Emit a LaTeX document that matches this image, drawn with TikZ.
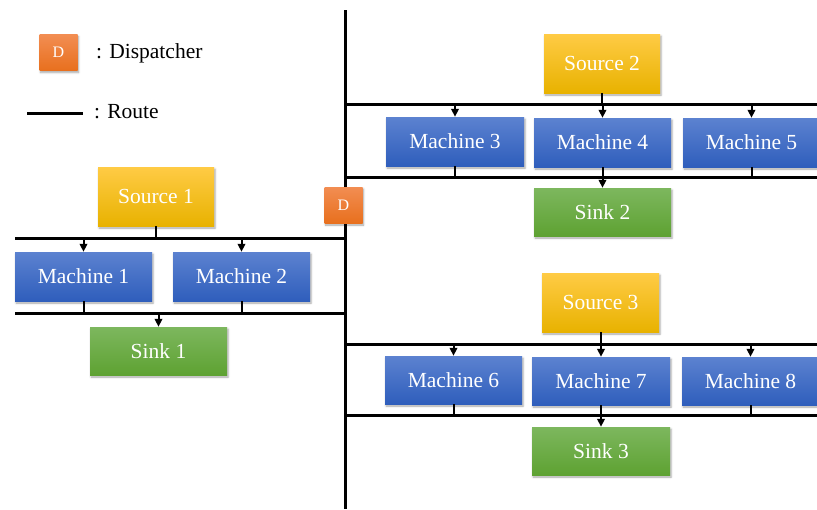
\documentclass[tikz,border=0pt]{standalone}
\usepackage{fontspec}
\setmainfont{Liberation Serif}
\usetikzlibrary{arrows.meta,shadows.blur}

\definecolor{srcTop}{HTML}{FFCB45}
\definecolor{srcBot}{HTML}{E8B200}
\definecolor{macTop}{HTML}{5C82D0}
\definecolor{macBot}{HTML}{2F5EBC}
\definecolor{snkTop}{HTML}{7DB75E}
\definecolor{snkBot}{HTML}{5EA232}
\definecolor{dspTop}{HTML}{F28D52}
\definecolor{dspBot}{HTML}{E8701E}

\tikzset{
  box/.style={inner sep=0pt, text=white, font=\fontsize{21.5}{24}\selectfont,
    blur shadow={shadow xshift=1pt, shadow yshift=-2pt, shadow blur steps=5,
      shadow blur radius=2pt, shadow opacity=35}},
  source/.style={box, top color=srcTop, bottom color=srcBot, minimum width=116pt, minimum height=59pt},
  machine/.style={box, top color=macTop, bottom color=macBot, minimum width=137pt, minimum height=49pt},
  sink/.style={box, top color=snkTop, bottom color=snkBot, minimum width=137pt, minimum height=48pt},
  dispatcher/.style={box, top color=dspTop, bottom color=dspBot, minimum width=38pt, minimum height=36pt,
    font=\fontsize{16}{18}\selectfont},
  route/.style={line width=3pt},
  link/.style={line width=2pt},
  feed/.style={link, -{Triangle[length=8pt,width=7.5pt]}},
  legend/.style={font=\fontsize{21.5}{24}\selectfont, anchor=west, inner sep=0pt}
}

\begin{document}
\begin{tikzpicture}[x=1pt, y=-1pt]
\useasboundingbox (0,0) rectangle (817,509);

% legend
\node[dispatcher] (dleg) at (58.5,52.5) {D};
\node[legend] (tdisp) at (96,53) {: Dispatcher};
\coordinate (rla) at (27,113);
\coordinate (rlb) at (83,113);
\draw[route] (rla) -- (rlb);
\node[legend] (troute) at (94,112) {: Route};

% main route
\coordinate (mtop) at (345,10);
\coordinate (mbot) at (345,509);
\draw[route] (mtop) -- (mbot);

% route lines
\coordinate (r1a) at (15,238);  \coordinate (r1b) at (345,238);
\coordinate (r2a) at (15,313);  \coordinate (r2b) at (345,313);
\coordinate (r3a) at (345,104); \coordinate (r3b) at (817,104);
\coordinate (r4a) at (345,177); \coordinate (r4b) at (817,177);
\coordinate (r5a) at (345,344); \coordinate (r5b) at (817,344);
\coordinate (r6a) at (345,415); \coordinate (r6b) at (817,415);
\foreach \a/\b in {r1a/r1b,r2a/r2b,r3a/r3b,r4a/r4b,r5a/r5b,r6a/r6b}
  \draw[route] (\a) -- (\b);

% cell 1
\node[source]  (s1) at (156,196.5) {Source 1};
\node[machine] (m1) at (83.5,276.5) {Machine 1};
\node[machine] (m2) at (241.5,276.5) {Machine 2};
\node[sink]    (k1) at (158.5,351) {Sink 1};
\draw[link] (s1.south) -- (s1.south |- r1a);
\draw[feed] (m1.north |- r1a) -- (m1.north);
\draw[feed] (m2.north |- r1a) -- (m2.north);
\draw[link] (m1.south) -- (m1.south |- r2a) -| (m2.south);
\draw[feed] (k1.north |- r2a) -- (k1.north);

% cell 2
\node[source]  (s2) at (602,63.5) {Source 2};
\node[machine, minimum width=138pt] (m3) at (455,141.5) {Machine 3};
\node[machine] (m4) at (602.5,142.5) {Machine 4};
\node[machine] (m5) at (751.5,142.5) {Machine 5};
\node[sink]    (k2) at (602.5,212) {Sink 2};
\draw[link] (s2.south) -- (s2.south |- r3a);
\draw[feed] (m3.north |- r3a) -- (m3.north);
\draw[feed] (m4.north |- r3a) -- (m4.north);
\draw[feed] (m5.north |- r3a) -- (m5.north);
\draw[link] (m3.south) -- (m3.south |- r4a);
\draw[link] (m5.south) -- (m5.south |- r4a);
\draw[feed] (m4.south) -- (k2.north);

% cell 3
\node[source, minimum width=117pt] (s3) at (600.5,302.5) {Source 3};
\node[machine, minimum height=48pt] (m6) at (453.5,380) {Machine 6};
\node[machine, minimum height=48pt, minimum width=138pt] (m7) at (601,381) {Machine 7};
\node[machine, minimum height=48pt] (m8) at (750.5,381) {Machine 8};
\node[sink, minimum width=138pt] (k3) at (601,451) {Sink 3};
\draw[link] (s3.south) -- (s3.south |- r5a);
\draw[feed] (m6.north |- r5a) -- (m6.north);
\draw[feed] (m7.north |- r5a) -- (m7.north);
\draw[feed] (m8.north |- r5a) -- (m8.north);
\draw[link] (m6.south) -- (m6.south |- r6a);
\draw[link] (m8.south) -- (m8.south |- r6a);
\draw[feed] (m7.south) -- (k3.north);

% dispatcher on the main route
\node[dispatcher] (d) at (343.5,205) {D};
\end{tikzpicture}
\end{document}
